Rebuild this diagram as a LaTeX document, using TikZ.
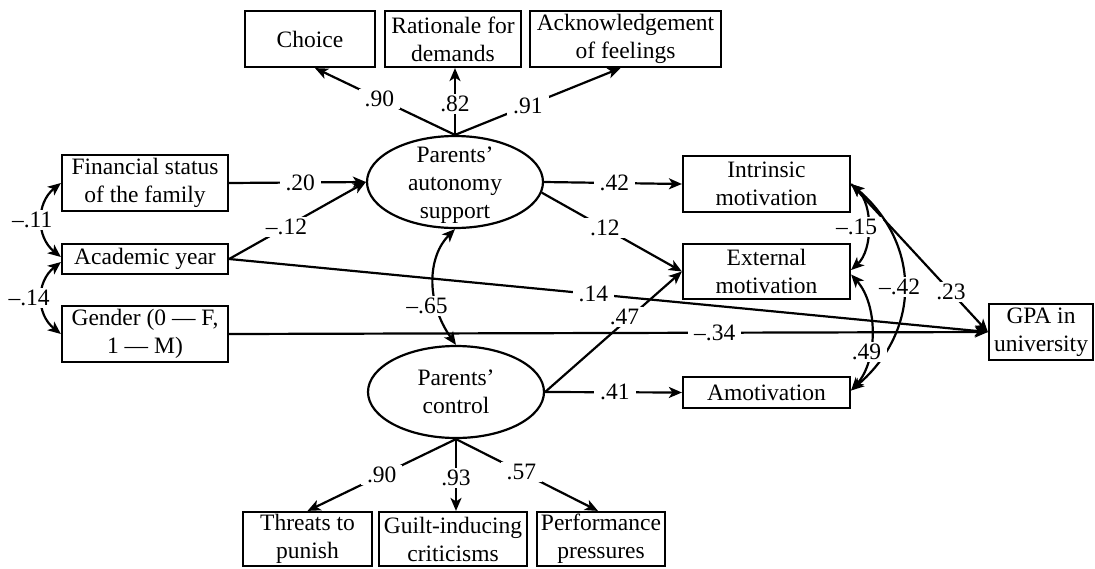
\documentclass[tikz,border=0pt]{standalone}
\usepackage{fontspec}
\setmainfont{Liberation Serif}
\usetikzlibrary{arrows.meta,shapes.geometric}
\begin{document}
\begin{tikzpicture}[x=1pt,y=-1pt,
  every node/.style={font=\fontsize{23.5}{28}\selectfont},
  box/.style={draw, line width=2.2pt, align=center, inner sep=0pt},
  lat/.style={draw, ellipse, line width=2.2pt, inner sep=0pt, minimum width=176pt, minimum height=92pt},
  tip/.tip={Stealth[length=13pt,width=11pt,inset=3.5pt]},
  arr/.style={line width=2.2pt, -tip},
  darr/.style={line width=2.2pt, tip-tip},
  lab/.style={fill=white, inner xsep=6pt, inner ysep=2pt}
]
\useasboundingbox (0,0) rectangle (1095,568);

% boxes
\node[box, minimum width=130pt, minimum height=56pt] (choice) at (310,39) {Choice};
\node[box, minimum width=136pt, minimum height=56pt] (rat) at (453,39) {Rationale for\\demands};
\node[box, minimum width=191pt, minimum height=56pt] (ack) at (625.5,39) {Acknowledgement\\of feelings};
\node[box, minimum width=166pt, minimum height=56pt] (fin) at (145,183) {Financial status\\of the family};
\node[box, minimum width=166pt, minimum height=30pt] (aca) at (145,259) {Academic year};
\node[box, minimum width=166pt, minimum height=56pt] (gen) at (145,334) {Gender (0 — F,\\1 — M)};
\node[box, minimum width=167pt, minimum height=56pt] (int) at (766.5,184) {Intrinsic\\motivation};
\node[box, minimum width=167pt, minimum height=55pt] (ext) at (766.5,271.5) {External\\motivation};
\node[box, minimum width=167pt, minimum height=31pt] (amo) at (766.5,392.5) {Amotivation};
\node[box, minimum width=104pt, minimum height=56pt] (gpa) at (1041,332) {GPA in\\university};
\node[box, minimum width=129pt, minimum height=54pt] (thr) at (307.5,539) {Threats to\\punish};
\node[box, minimum width=148pt, minimum height=54pt] (gui) at (453,539) {Guilt-inducing\\criticisms};
\node[box, minimum width=128pt, minimum height=54pt] (per) at (601,539) {Performance\\pressures};

% latent variables
\node[lat, label={[align=center,yshift=-3pt]center:Parents’\\autonomy\\support}] (aut) at (455,182) {};
\node[lat, label={[align=center]center:Parents’\\control}] (con) at (456,392) {};

% long paths
\draw[arr] (gen.east) -- node[lab,pos=.64]{–.34} (gpa.west);
\draw[arr] (aca.east) -- node[lab,pos=.48]{.14} (gpa.west);

% autonomy indicators
\draw[arr] (aut.north) -- node[lab,pos=.54]{.90} ([xshift=5pt]choice.south);
\draw[arr] (aut.north) -- node[lab,pos=.46]{.82} (aut.north |- rat.south);
\draw[arr] (aut.north) -- node[lab,pos=.44]{.91} ([xshift=-5pt]ack.south);

% predictors of autonomy
\draw[arr] (fin.east) -- node[lab,pos=.52]{.20} (aut.west);
\draw[arr] (aca.east) -- node[lab,pos=.42]{–.12} (aut.west);

% autonomy to motivation
\draw[arr] (aut.east) -- node[lab,pos=.51]{.42} (int.west);
\draw[arr] (aut.-7) -- node[lab,pos=.45]{.12} (ext.west);

% control to motivation
\draw[arr] (con.east) -- node[lab,pos=.58,yshift=5pt,inner xsep=4pt]{.47} (ext.west);
\draw[arr] (con.east) -- node[lab,pos=.51]{.41} (amo.west);

% control indicators
\draw[arr] (con.south) -- node[lab,pos=.5]{.90} (thr.north);
\draw[arr] (con.south) -- node[lab,pos=.54]{.93} (con.south |- gui.north);
\draw[arr] (con.south) -- node[lab,pos=.46]{.57} ([xshift=-3pt]per.north);

% intrinsic to GPA
\draw[arr] (int.east) -- node[lab,pos=.73]{.23} (gpa.west);

% covariances
\draw[darr] (fin.west) .. controls +(-25,20) and +(-25,-20) .. node[lab,pos=.5,xshift=-10pt]{–.11} ([yshift=2pt]aca.west);
\draw[darr] ([yshift=-3pt]aca.west) .. controls +(-25,20) and +(-25,-20) .. node[lab,pos=.5,xshift=-13pt]{–.14} (gen.west);
\draw[darr] (aut.south) .. controls +(-27,27) and +(-31,-44) .. node[lab,pos=.7,xshift=-10pt]{–.65} (con.north);
\draw[darr] (int.east) .. controls +(22,20) and +(22,-20) .. node[lab,pos=.5,xshift=-11pt]{–.15} ([yshift=1.5pt]ext.east);
\draw[darr] (int.east) .. controls +(70,60) and +(70,-60) .. node[lab,pos=.5,xshift=-4pt]{–.42} ([yshift=2pt]amo.east);
\draw[darr] ([yshift=-3pt]ext.east) .. controls +(27,30) and +(27,-30) .. node[lab,pos=.65,xshift=-3pt]{.49} ([yshift=2pt]amo.east);
\end{tikzpicture}
\end{document}
